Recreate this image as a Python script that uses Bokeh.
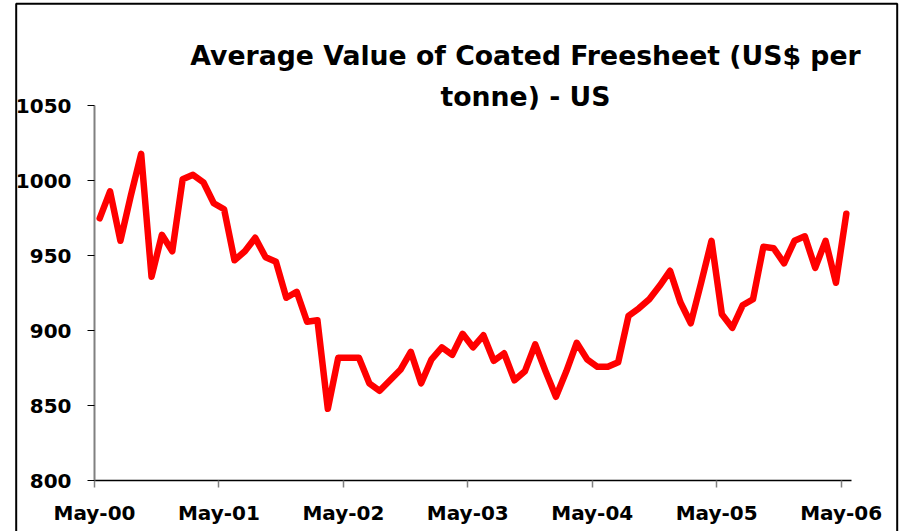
from bokeh.plotting import figure
from bokeh.models import Label, FixedTicker, Range1d, BoxAnnotation
from bokeh.embed import file_html
from bokeh.resources import INLINE

# ---- data ----
title_lines = ["Average Value of Coated Freesheet (US$ per", "tonne) - US"]
tick_labels = ["May-00", "May-01", "May-02", "May-03", "May-04", "May-05", "May-06"]
y_ticks = [800, 850, 900, 950, 1000, 1050]
# monthly values, May-2000 .. May-2006
values = [
    975, 993, 960, 990, 1018, 936, 964, 953, 1001, 1004, 999, 985,
    981, 947, 953, 962, 949, 946, 922, 926, 906, 907, 848, 882,
    882, 882, 865, 860, 867, 874, 886, 865, 881, 889, 884, 898,
    889, 897, 880, 885, 867, 873, 891, 873, 856, 873, 892, 881,
    876, 876, 879, 910, 915, 921, 930, 940, 919, 905, 932, 960,
    911, 902, 917, 921, 956, 955, 945, 960, 963, 942, 960, 932,
    978,
]

n = len(values)
xs = [i + 0.5 for i in range(n)]  # each month centred in its slot
tick_pos = [12 * k for k in range(len(tick_labels))]

# ---- layout (pixels) ----
W, H = 899, 531
AX_LEFT, AX_RIGHT = 94.0, 851.0      # pixel extent of the x axis
AX_TOP, AX_BOTTOM = 105.3, 480.3     # pixel extent of the y axis
Y_MIN, Y_MAX = y_ticks[0], y_ticks[-1]
px_per_x = (AX_RIGHT - AX_LEFT) / n
px_per_y = (AX_BOTTOM - AX_TOP) / (Y_MAX - Y_MIN)


def xd(px):
    return (px - AX_LEFT) / px_per_x


def yd(py):
    return Y_MIN + (AX_BOTTOM - py) / px_per_y


p = figure(
    width=W, height=H,
    output_backend="svg", toolbar_location=None,
    x_range=Range1d(xd(0), xd(W)), y_range=Range1d(yd(H), yd(0)),
    min_border_left=0, min_border_right=0, min_border_top=0, min_border_bottom=0,
)
p.outline_line_color = None
p.grid.visible = False
p.background_fill_color = "white"
p.border_fill_color = "white"

p.line(xs, values, line_color="#FF0000", line_width=6.5, line_join="round", line_cap="round")

# x axis
xa = p.xaxis[0]
xa.fixed_location = Y_MIN
xa.bounds = (0, n)
xa.ticker = FixedTicker(ticks=tick_pos)
xa.major_label_overrides = {t: lab for t, lab in zip(tick_pos, tick_labels)}
xa.axis_line_color = "black"
xa.axis_line_width = 1.5
xa.major_tick_line_color = "#808080"
xa.major_tick_line_width = 1.5
xa.major_tick_in = 0
xa.major_tick_out = 7
xa.minor_tick_line_color = None
xa.major_label_standoff = 13
xa.major_label_text_font = "DejaVu Sans"
xa.major_label_text_font_style = "bold"
xa.major_label_text_font_size = "20px"
xa.major_label_text_color = "black"

# y axis
ya = p.yaxis[0]
ya.fixed_location = 0
ya.bounds = (Y_MIN, Y_MAX)
ya.ticker = FixedTicker(ticks=y_ticks)
ya.axis_line_color = "#808080"
ya.axis_line_width = 2
ya.major_tick_line_color = "black"
ya.major_tick_line_width = 1.2
ya.major_tick_in = 0
ya.major_tick_out = 7
ya.minor_tick_line_color = None
ya.major_label_standoff = 16
ya.major_label_text_font = "DejaVu Sans"
ya.major_label_text_font_style = "bold"
ya.major_label_text_font_size = "20px"
ya.major_label_text_color = "black"

# chart-area border (open at the bottom, as in the original image)
p.add_layout(BoxAnnotation(
    left=xd(15.7), right=xd(896.7), top=yd(3.3), bottom=yd(H + 20),
    fill_color=None, fill_alpha=0, line_color="black", line_alpha=1.0, line_width=2,
))

# title (two centred lines)
for line, py in zip(title_lines, [55, 96]):
    p.add_layout(Label(
        x=xd(525), y=yd(py), text=line,
        text_align="center", text_baseline="alphabetic",
        text_font="DejaVu Sans", text_font_style="bold", text_font_size="26.7px",
        text_color="black",
    ))

open("out.html", "w").write(file_html(p, INLINE))
